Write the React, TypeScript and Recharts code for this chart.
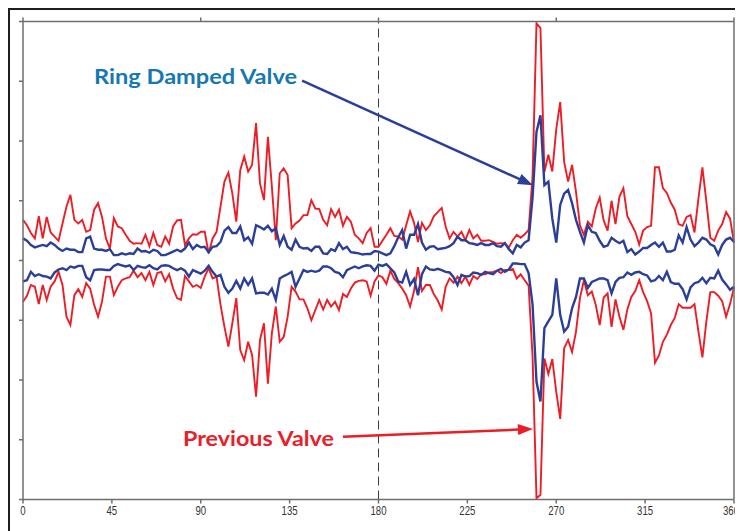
import { LineChart, Line, XAxis, YAxis, ReferenceLine, ReferenceDot } from "recharts";

// crank angle grid, 2 degree steps
const ANGLE_STEP = 2;
const angles = Array.from({ length: 181 }, (_, i) => i * ANGLE_STEP);

const xTicks = [0, 45, 90, 135, 180, 225, 270, 315, 360];
const yTicks = [-40, -30, -20, -10, 0, 10, 20, 30, 40];

// Previous Valve (red), upper envelope
const previousTop = [
  6.8, 5.9, 4.6, 3.7, 7.4, 3.7, 7.3, 4.7, 4.0, 3.3,
  6.2, 9.0, 11.0, 6.8, 6.2, 6.8, 4.8, 5.1, 8.5, 9.6,
  7.3, 3.7, 2.0, 7.1, 5.7, 5.4, 4.3, 3.3, 2.8, 2.9,
  2.8, 4.3, 2.4, 4.6, 2.6, 2.3, 4.0, 2.8, 5.7, 6.7,
  6.8, 2.6, 3.7, 4.4, 4.3, 4.8, 4.8, 1.2, 3.7, 4.8,
  9.0, 13.2, 14.7, 11.2, 6.5, 15.1, 17.4, 14.9, 16.0, 23.0,
  12.9, 10.1, 20.7, 12.4, 3.4, 14.6, 15.4, 14.3, 5.4, 6.2,
  6.7, 7.6, 7.6, 10.1, 8.7, 8.6, 6.8, 5.9, 8.6, 7.3,
  8.5, 5.8, 7.3, 6.5, 4.3, 3.7, 2.9, 4.6, 5.4, 2.3,
  2.3, 3.3, 4.3, 5.4, 4.1, 4.0, 3.5, 5.9, 8.2, 6.3,
  3.1, 6.3, 5.1, 5.9, 7.4, 8.1, 8.8, 5.7, 3.7, 4.8,
  4.0, 4.8, 3.4, 5.1, 3.7, 4.3, 3.3, 3.3, 3.4, 3.1,
  2.8, 2.9, 2.8, 2.2, 3.4, 4.3, 3.8, 4.4, 5.1, 14.0,
  39.7, 38.9, 14.8, 17.7, 14.9, 22.0, 26.5, 16.5, 13.2, 16.0,
  11.5, 5.9, 4.3, 6.5, 5.7, 8.7, 10.5, 6.7, 5.0, 10.0,
  6.1, 10.7, 12.1, 7.4, 6.1, 4.8, 2.7, 5.0, 5.6, 5.8,
  15.6, 15.6, 12.1, 11.3, 9.7, 8.5, 6.1, 5.8, 7.3, 7.6,
  4.7, 10.4, 15.6, 9.9, 3.8, 3.3, 5.0, 6.1, 8.1, 7.0,
  3.0,
];

// Previous Valve (red), lower envelope
const previousBottom = [
  -6.9, -5.9, -4.1, -4.4, -7.3, -4.1, -6.6, -4.4, -3.5, -1.9,
  -4.1, -9.4, -10.8, -5.8, -4.8, -6.1, -3.8, -4.7, -7.4, -9.4,
  -6.9, -2.7, -2.7, -5.8, -4.4, -3.3, -3.0, -2.8, -1.7, -2.8,
  -2.1, -3.3, -1.9, -4.1, -2.1, -1.9, -3.5, -2.3, -4.7, -6.3,
  -6.6, -2.6, -3.5, -4.4, -4.1, -4.6, -2.7, -1.3, -3.0, -2.7,
  -7.4, -11.1, -14.4, -10.5, -6.3, -15.0, -16.7, -13.6, -15.8, -22.8,
  -13.3, -10.5, -20.6, -12.2, -7.7, -13.6, -12.8, -9.4, -4.4, -5.2,
  -6.5, -6.5, -8.0, -10.0, -8.3, -6.6, -8.2, -6.6, -7.7, -6.9,
  -8.3, -5.6, -6.1, -4.7, -3.7, -3.4, -3.3, -3.5, -5.9, -3.5,
  -2.5, -2.8, -3.9, -1.7, -3.1, -3.8, -4.7, -5.8, -7.7, -5.1,
  -1.1, -5.1, -4.1, -4.1, -5.6, -6.7, -8.2, -4.4, -3.0, -3.7,
  -2.7, -3.8, -2.7, -4.1, -2.6, -3.1, -2.3, -2.3, -2.0, -1.9,
  -1.7, -2.1, -1.6, -1.6, -1.4, -3.0, -2.3, -3.3, -4.2, -16.0,
  -39.8, -39.2, -16.4, -19.0, -16.5, -22.0, -26.5, -14.7, -13.3, -15.3,
  -11.9, -6.3, -3.3, -5.8, -5.2, -7.4, -10.8, -6.2, -5.5, -11.1,
  -6.5, -9.4, -11.6, -8.2, -6.1, -5.1, -3.3, -5.3, -6.8, -8.8,
  -17.1, -15.9, -13.6, -12.4, -10.8, -9.6, -7.3, -7.9, -7.9, -7.9,
  -7.3, -11.9, -16.2, -10.2, -5.3, -5.3, -5.9, -6.8, -9.4, -7.3,
  -4.5,
];

// Ring Damped Valve (blue), upper envelope
const dampedTop = [
  3.7, 3.3, 2.6, 2.2, 2.4, 2.6, 2.4, 3.0, 2.6, 2.0,
  1.6, 2.0, 1.8, 1.8, 1.4, 1.4, 3.7, 4.0, 2.0, 1.8,
  1.8, 1.6, 1.9, 0.9, 0.9, 1.2, 1.0, 1.2, 1.1, 2.0,
  1.5, 1.6, 1.3, 1.8, 1.6, 0.9, 0.9, 1.2, 1.5, 1.8,
  1.5, 2.0, 3.0, 1.9, 2.6, 2.2, 2.3, 1.4, 2.3, 2.4,
  3.1, 5.0, 5.6, 4.6, 4.6, 5.7, 3.4, 3.9, 2.8, 5.9,
  5.6, 5.2, 5.8, 4.9, 5.4, 2.6, 4.1, 2.3, 1.8, 3.5,
  2.3, 2.0, 2.1, 1.6, 2.3, 2.3, 1.2, 1.1, 1.9, 1.6,
  2.9, 1.9, 2.3, 1.4, 1.3, 1.2, 1.0, 1.1, 1.1, 1.6,
  1.5, 1.2, 0.9, 1.2, 2.4, 3.9, 5.1, 2.0, 4.3, 4.3,
  6.1, 3.0, 1.8, 2.3, 2.4, 1.9, 2.0, 2.1, 2.4, 2.9,
  4.0, 3.4, 3.4, 2.9, 2.8, 2.6, 2.9, 2.6, 2.6, 2.9,
  2.4, 2.3, 2.9, 1.9, 1.2, 2.6, 2.2, 3.0, 3.4, 10.5,
  21.5, 24.3, 12.6, 13.2, 7.0, 3.0, 9.3, 11.2, 11.8, 9.6,
  6.8, 4.8, 3.0, 5.9, 4.8, 4.6, 3.3, 2.3, 2.5, 3.8,
  3.3, 2.9, 3.3, 1.4, 1.9, 1.0, 1.5, 2.1, 2.1, 2.6,
  3.0, 2.3, 3.0, 1.5, 1.5, 1.8, 4.2, 3.0, 5.6, 3.5,
  2.4, 3.0, 3.8, 3.5, 2.7, 2.4, 1.0, 2.6, 3.5, 3.8,
  3.1,
];

// Ring Damped Valve (blue), lower envelope
const dampedBottom = [
  -3.5, -3.3, -1.9, -2.6, -2.3, -2.6, -2.7, -3.0, -2.0, -1.5,
  -1.3, -1.6, -1.0, -1.2, -0.9, -0.9, -2.8, -3.3, -1.6, -1.5,
  -1.5, -1.6, -1.6, -0.9, -0.6, -0.8, -1.0, -0.8, -1.6, -0.9,
  -1.1, -1.2, -0.8, -1.3, -1.5, -0.9, -0.8, -0.9, -1.3, -1.6,
  -1.3, -1.7, -2.7, -1.6, -1.9, -2.2, -1.7, -0.9, -1.9, -2.7,
  -2.4, -4.4, -5.4, -4.7, -3.4, -4.7, -3.0, -4.1, -3.0, -5.5,
  -5.4, -5.4, -5.7, -4.7, -6.6, -3.0, -2.6, -2.3, -1.9, -4.4,
  -3.0, -1.6, -1.9, -1.7, -1.9, -1.7, -1.0, -1.0, -1.3, -1.9,
  -2.1, -2.8, -1.6, -1.3, -1.0, -1.3, -1.0, -0.8, -0.9, -1.7,
  -0.7, -0.9, -0.6, -1.3, -2.0, -3.5, -3.7, -1.9, -4.1, -3.1,
  -5.8, -2.3, -1.0, -1.5, -1.6, -1.4, -1.6, -1.9, -2.0, -2.8,
  -4.1, -2.4, -2.7, -2.6, -2.0, -2.1, -2.4, -1.9, -2.1, -2.3,
  -1.7, -1.4, -1.9, -1.5, -0.5, -0.5, -0.6, -0.6, -2.1, -7.4,
  -20.3, -23.6, -11.3, -10.2, -9.1, -3.0, -9.1, -11.9, -11.1, -8.0,
  -6.1, -3.0, -3.0, -4.6, -3.6, -3.3, -3.0, -3.0, -3.3, -5.5,
  -3.6, -2.9, -2.8, -2.0, -2.4, -2.0, -1.9, -2.3, -2.5, -3.5,
  -3.3, -2.6, -3.3, -1.9, -3.6, -3.9, -3.9, -4.8, -6.5, -4.5,
  -3.8, -3.6, -2.9, -3.8, -2.9, -3.0, -1.7, -3.2, -4.0, -4.9,
  -4.4,
];

const data = angles.map((angle, i) => ({
  angle,
  previousTop: previousTop[i],
  previousBottom: previousBottom[i],
  dampedTop: dampedTop[i],
  dampedBottom: dampedBottom[i],
}));

const RED = "#ee1d25";
const BLUE = "#2c3f98";
const AXIS = "#6e6e6e";
const tickFont = '"Liberation Sans", Arial, sans-serif';
const labelFont = 'Lato, "Open Sans", sans-serif';

function arrowShape(color: string, width: number) {
  return (p: any) => {
    const { x1, y1, x2, y2 } = p;
    const dx = x2 - x1;
    const dy = y2 - y1;
    const len = Math.hypot(dx, dy) || 1;
    const ux = dx / len;
    const uy = dy / len;
    const head = 15;
    const half = 5.5;
    const bx = x2 - ux * head;
    const by = y2 - uy * head;
    return (
      <g>
        <line x1={x1} y1={y1} x2={bx + ux} y2={by + uy} stroke={color} strokeWidth={width} />
        <polygon
          points={`${x2},${y2} ${bx - uy * half},${by + ux * half} ${bx + uy * half},${by - ux * half}`}
          fill={color}
        />
      </g>
    );
  };
}

function labelShape(text: string, color: string, length: number) {
  return (p: any) => (
    <text
      x={p.cx}
      y={p.cy}
      fill={color}
      fontFamily={labelFont}
      fontWeight={700}
      fontSize={21}
      textAnchor="start"
      textLength={length}
      lengthAdjust="spacingAndGlyphs"
    >
      {text}
    </text>
  );
}

// narrow tick digits, like the condensed face in the original
function AngleTick(props: any) {
  const { x, y, payload } = props;
  return (
    <text
      transform={`translate(${x},${y}) scale(0.8,1)`}
      textAnchor="middle"
      dy="0.75em"
      fontSize={12}
      fill="#333"
      fontFamily={tickFont}
    >
      {payload.value}
    </text>
  );
}

const emptyTick = () => "";

export default function App() {
  return (
    <div
      style={{
        width: 735,
        height: 523,
        boxSizing: "border-box",
        borderTop: "2px solid #1e1e1e",
        borderLeft: "2px solid #1e1e1e",
        background: "#fff",
      }}
    >
      <LineChart
        width={733}
        height={521}
        data={data}
        margin={{ top: 0, right: 0, bottom: 0, left: 0 }}
      >
        <XAxis
          dataKey="angle"
          type="number"
          domain={[0, 360]}
          ticks={xTicks}
          height={31.5}
          stroke={AXIS}
          strokeWidth={1.5}
          tickSize={4}
          tickMargin={2}
          tick={<AngleTick />}
        />
        <XAxis
          xAxisId="top"
          orientation="top"
          type="number"
          domain={[0, 360]}
          ticks={xTicks}
          height={11.5}
          stroke={AXIS}
          strokeWidth={1.5}
          tickSize={4}
          tickFormatter={emptyTick}
        />
        <YAxis
          type="number"
          domain={[-40, 40]}
          ticks={yTicks}
          width={13}
          stroke={AXIS}
          strokeWidth={1.5}
          tickSize={4}
          tickFormatter={emptyTick}
          allowDataOverflow
        />
        <YAxis
          yAxisId="right"
          orientation="right"
          type="number"
          domain={[-40, 40]}
          ticks={yTicks}
          width={9}
          stroke={AXIS}
          strokeWidth={1.5}
          tickSize={4}
          tickFormatter={emptyTick}
        />
        <ReferenceLine x={180} stroke="#3a3a3a" strokeWidth={1} strokeDasharray="9 5" />

        <Line dataKey="previousTop" stroke={RED} strokeWidth={1.9} dot={false} isAnimationActive={false} />
        <Line dataKey="previousBottom" stroke={RED} strokeWidth={1.9} dot={false} isAnimationActive={false} />
        <Line dataKey="dampedTop" stroke={BLUE} strokeWidth={2.4} dot={false} isAnimationActive={false} />
        <Line dataKey="dampedBottom" stroke={BLUE} strokeWidth={2.4} dot={false} isAnimationActive={false} />

        <ReferenceLine
          segment={[{ x: 141.3, y: 30.1 }, { x: 258.2, y: 12.6 }]}
          shape={arrowShape(BLUE, 2.6)}
        />
        <ReferenceLine
          segment={[{ x: 162, y: -29.5 }, { x: 258.2, y: -28.2 }]}
          shape={arrowShape(RED, 2.4)}
        />
        <ReferenceDot x={36} y={29.5} r={0} shape={labelShape("Ring Damped Valve", "#1678b2", 203)} />
        <ReferenceDot x={81} y={-31} r={0} shape={labelShape("Previous Valve", "#e8202a", 151)} />
      </LineChart>
    </div>
  );
}
